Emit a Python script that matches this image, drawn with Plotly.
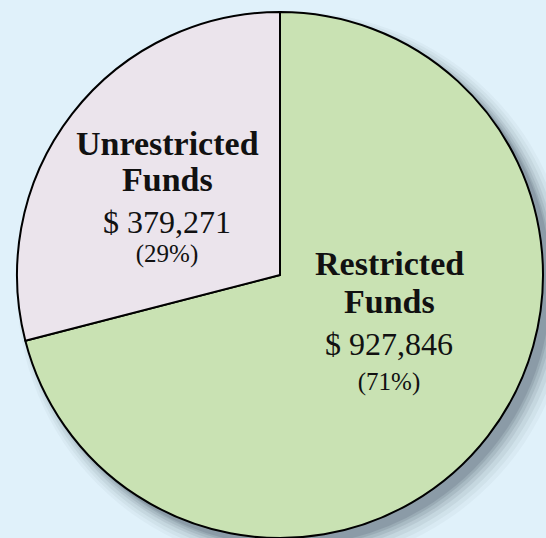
import plotly.graph_objects as go

# order: Restricted first so it sweeps clockwise from 12 o'clock on the right
labels = ["Restricted Funds", "Unrestricted Funds"]
values = [927846, 379271]
colors = ["#c9e2b3", "#ebe4ec"]
percent_text = ["(71%)", "(29%)"]

W, H = 546, 538
cx, cy, r = 280, 275, 263

def px(x):
    return x / W

def py(y):
    return 1 - y / H

fig = go.Figure()

fig.add_trace(go.Pie(
    labels=labels, values=values, sort=False, direction="clockwise", rotation=0,
    marker=dict(colors=colors, line=dict(color="#000000", width=2)),
    textinfo="none", showlegend=False,
    domain=dict(x=[px(cx - r), px(cx + r)], y=[py(cy + r), py(cy - r)]),
))

# soft drop shadow (decoration, layered circles)
shapes = []
for off, extra, a in [(14, 14, 0.04), (13, 11, 0.05), (12, 8, 0.07), (11, 5, 0.09),
                      (10, 3, 0.11), (9, 1, 0.13), (8, 0, 0.15)]:
    sx, sy, sr = cx + off, cy + off, r + extra
    shapes.append(dict(type="circle", xref="paper", yref="paper", layer="below",
                       x0=px(sx - sr), x1=px(sx + sr), y0=py(sy + sr), y1=py(sy - sr),
                       fillcolor=f"rgba(55,70,85,{a})", line=dict(width=0)))

def money(v):
    return "$ " + f"{v:,}"

def amount_block(v, pct):
    return (f"<span style='font-size:32px'>{money(v)}</span><br>"
            f"<span style='font-size:25px'>{pct}</span>")

serif = "Liberation Serif"
ann = []
ux = 167
ann += [
    dict(text="<b>Unrestricted</b>", x=ux, y=143, size=34),
    dict(text="<b>Funds</b>", x=ux, y=180, size=34),
    dict(text=amount_block(values[1], percent_text[1]), x=ux, y=236, size=22.5),
]
rx = 389
ann += [
    dict(text="<b>Restricted</b>", x=rx, y=263, size=34),
    dict(text="<b>Funds</b>", x=rx, y=301, size=34),
    dict(text=amount_block(values[0], percent_text[0]), x=rx, y=360.5, size=27),
]
fig.update_layout(
    shapes=shapes,
    annotations=[dict(text=a["text"], x=px(a["x"]), y=py(a["y"]), xref="paper", yref="paper",
                      xanchor="center", yanchor="middle", showarrow=False,
                      font=dict(family=serif, size=a["size"], color="#111111")) for a in ann],
    width=W, height=H, margin=dict(l=0, r=0, t=0, b=0),
    paper_bgcolor="#e0f1fa", plot_bgcolor="#e0f1fa",
)

fig.write_html("out.html", config={"displayModeBar": False},
               post_script="document.body.style.margin='0';document.body.style.overflow='hidden';")
